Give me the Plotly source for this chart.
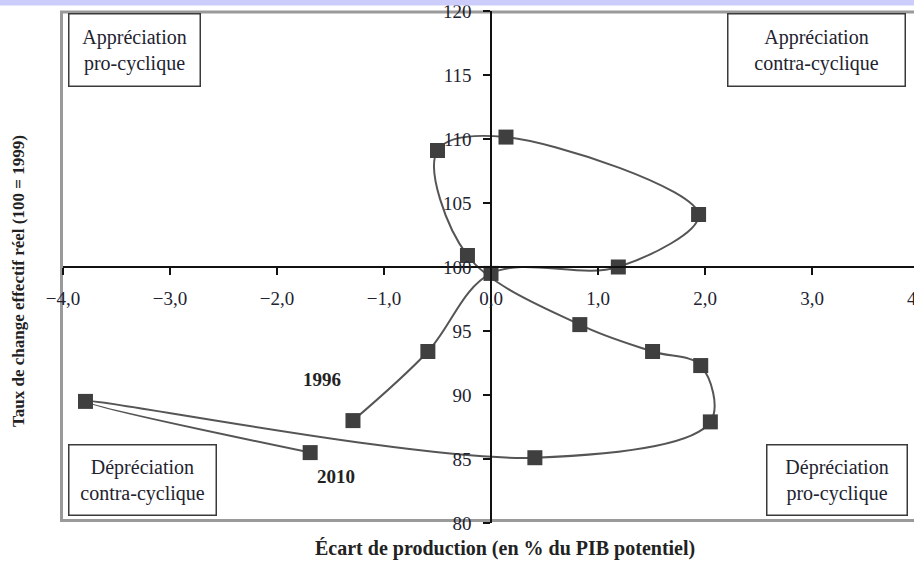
import plotly.graph_objects as go

# Data
years = ["1996", "1997", "1998", "1999", "2000", "2001", "2002", "2003",
         "2004", "2005", "2006", "2007", "2008", "2009", "2010"]
output_gap = [-1.29, -0.59, 0.00, 1.19, 1.94, 0.14, -0.50, -0.22,
              0.83, 1.51, 1.96, 2.05, 0.41, -3.79, -1.69]
reer = [88.0, 93.4, 99.5, 100.0, 104.1, 110.15, 109.1, 100.9,
        95.5, 93.4, 92.3, 87.9, 85.1, 89.5, 85.5]

x_ticks = [-4, -3, -2, -1, 0, 1, 2, 3]
y_ticks = [80, 85, 90, 95, 100, 105, 110, 115, 120]

quadrants = [
    ("Appréciation<br>pro-cyclique", 134, 50, 132, 73),
    ("Appréciation<br>contra-cyclique", 816, 50, 178, 73),
    ("Dépréciation<br>contra-cyclique", 142, 479.5, 148, 71),
    ("Dépréciation<br>pro-cyclique", 836.5, 479.5, 141, 71),
]

W, H = 914, 561
ML, MT, MB = 63, 11, 38
PW, PH = W - ML, H - MT - MB

def px2paper_x(px):
    return (px - ML) / PW

def px2paper_y(py):
    return (H - MB - py) / PH

XMIN = -4.0
XMAX = XMIN + PW / 107.0
x0_frac = (0 - XMIN) / (XMAX - XMIN)

serif = "Liberation Serif, Times New Roman, serif"
txt_col = "#222230"

fig = go.Figure()
fig.add_trace(go.Scatter(
    x=output_gap, y=reer, text=years, mode="lines+markers",
    line=dict(color="#555555", width=2, shape="spline", smoothing=1.0),
    marker=dict(symbol="square", size=15, color="#3f3f3f"),
    showlegend=False, hoverinfo="text+x+y", cliponaxis=False,
))

fig.update_layout(
    width=W, height=H,
    margin=dict(l=ML, r=0, t=MT, b=MB, pad=0),
    paper_bgcolor="white", plot_bgcolor="white",
    separators=", ",
    font=dict(family=serif, size=19, color=txt_col),
    xaxis=dict(
        range=[XMIN, XMAX], tickvals=x_ticks, tickformat=".1f",
        showgrid=False, zeroline=False, showline=True, linecolor="#111", linewidth=1.5,
        ticks="outside", ticklen=7, tickwidth=1.5, tickcolor="#111",
        anchor="free", position=0.5, side="bottom", ticklabelstandoff=7,
        tickfont=dict(family=serif, size=19, color=txt_col),
    ),
    yaxis=dict(
        range=[80, 120], tickvals=y_ticks,
        showgrid=False, zeroline=False, showline=True, linecolor="#111", linewidth=1.5,
        ticks="outside", ticklen=7, tickwidth=1.5, tickcolor="#111",
        anchor="free", position=x0_frac, side="left", ticklabelstandoff=8,
        tickfont=dict(family=serif, size=19, color=txt_col),
    ),
)

shapes = [
    # outer grey frame
    dict(type="rect", xref="paper", yref="paper",
         x0=px2paper_x(61.5), x1=1.05, y0=px2paper_y(520.5), y1=px2paper_y(12),
         line=dict(color="#9a9a9a", width=3), layer="below"),
    # lavender strip at the top of the page
    dict(type="rect", xref="paper", yref="paper",
         x0=px2paper_x(-5), x1=px2paper_x(W + 5), y0=px2paper_y(5.5), y1=px2paper_y(-5),
         line=dict(width=0), fillcolor="#cdcdfc", layer="above"),
]
fig.update_layout(shapes=shapes)

ann = []
for text, cx, cy, bw, bh in quadrants:
    ann.append(dict(text=text, xref="paper", yref="paper",
                    x=px2paper_x(cx), y=px2paper_y(cy), xanchor="center", yanchor="middle",
                    showarrow=False, align="center", width=bw - 2, height=bh - 2,
                    bordercolor="#3a3a3a", borderwidth=1.5, borderpad=0, bgcolor="white",
                    font=dict(family=serif, size=20, color=txt_col)))

ann.append(dict(text="<b>1996</b>", xref="x", yref="y", x=-1.58, y=91.2,
                showarrow=False, font=dict(family=serif, size=19, color="#222")))
ann.append(dict(text="<b>2010</b>", xref="x", yref="y", x=-1.45, y=83.6,
                showarrow=False, font=dict(family=serif, size=19, color="#222")))

ann.append(dict(text="<b>Écart de production (en % du PIB potentiel)</b>",
                xref="paper", yref="paper", x=px2paper_x(505), y=px2paper_y(548),
                xanchor="center", yanchor="middle", showarrow=False,
                font=dict(family=serif, size=20, color="#222")))
ann.append(dict(text="<b>Taux de change effectif réel (100 = 1999)</b>",
                xref="paper", yref="paper", x=px2paper_x(18), y=px2paper_y(281),
                xanchor="center", yanchor="middle", showarrow=False, textangle=-90,
                font=dict(family=serif, size=17, color="#222")))
# partially visible "4,0" tick label at the right edge (cut off in the reference too)
ann.append(dict(text="4,0", xref="paper", yref="paper",
                x=px2paper_x(919), y=px2paper_y(298), xanchor="center", yanchor="middle",
                showarrow=False, font=dict(family=serif, size=19, color=txt_col)))
fig.update_layout(annotations=ann)

fig.write_html("out.html", config={"displayModeBar": False},
               post_script="document.body.style.margin='0';document.body.style.padding='0';")
